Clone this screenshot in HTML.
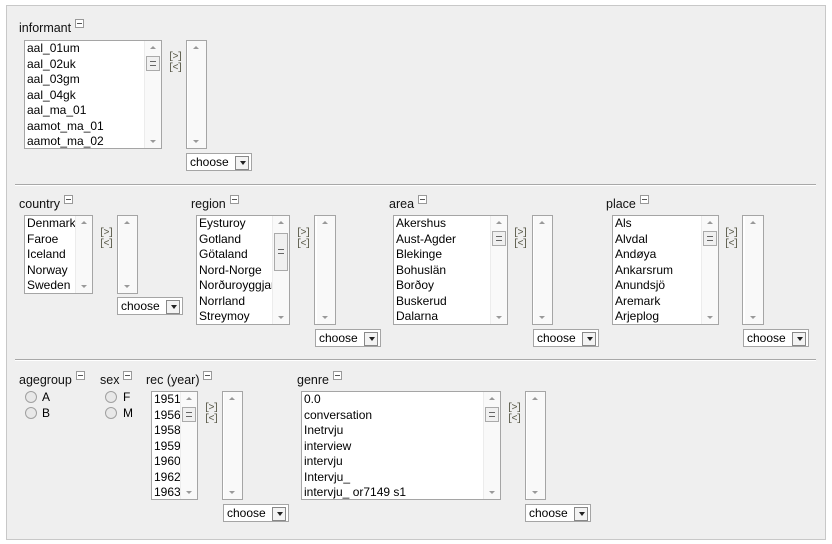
<!DOCTYPE html>
<html><head><meta charset="utf-8"><style>
body{margin:0;width:832px;height:544px;background:#fff;font-family:"Liberation Sans",sans-serif;font-size:12px;color:#000;position:relative;overflow:hidden}
.frame{position:absolute;left:6px;top:5px;width:818px;height:533px;background:#efefef;border:1px solid #c8c8c8}
.a{position:absolute}
.lbl{position:absolute;font-size:12.5px;color:#111}
.lbl i{display:inline-block;width:7px;height:7px;border:1px solid #999;background:#fff;margin-left:4px;position:relative;top:-4px}
.lbl i:after{content:"";position:absolute;left:1px;top:3px;width:5px;height:1px;background:#555}
.box{position:absolute;background:#fff;border:1px solid #a5a5a5;box-sizing:border-box;overflow:hidden}
.box .it{position:absolute;left:2px;line-height:15.5px;white-space:nowrap;font-size:12px}
.sb{position:absolute;right:0;top:0;bottom:0;width:16px;background:#f9f9f9;border-left:1px solid #ececec}
.sb:before{content:"";position:absolute;left:5px;top:5px;border:3px solid transparent;border-bottom:3px solid #999;border-top:0}
.sb:after{content:"";position:absolute;left:5px;bottom:5px;border:3px solid transparent;border-top:3px solid #999;border-bottom:0}
.th{position:absolute;left:1px;width:12px;border:1px solid #aaa;background:#f0f0f0;box-sizing:content-box}
.th:after{content:"";position:absolute;left:3px;top:50%;margin-top:-3px;width:6px;height:5px;border-top:1px solid #666;border-bottom:1px solid #666;box-sizing:border-box}
.arr{position:absolute;font-size:10px;line-height:11px;color:#554;font-family:"Liberation Mono",monospace;letter-spacing:-1.5px}
.ch{position:absolute;height:18px;background:#fff;border:1px solid #a5a5a5;box-sizing:border-box;font-size:12px;line-height:16px;padding-left:3px;width:66px}
.ch:after{content:"";position:absolute;right:2px;top:2px;width:12px;height:12px;border:1px solid #888;background:#f3f3f3}
.ch b{position:absolute;right:5px;top:7px;border:3px solid transparent;border-top:4px solid #222;border-bottom:0;z-index:2}
.hr{position:absolute;left:15px;width:801px;height:1px;background:#a8a8a8;border-bottom:1px solid #fff}
.rad{position:absolute;width:10px;height:10px;border-radius:50%;border:1px solid #a0a0a0;background:#e8e8e8}
</style></head><body>
<div class="frame"></div>

<div class="lbl" style="left:19px;top:21px">informant<i></i></div>
<div class="box" style="left:24px;top:40px;width:138px;height:109px">
<div class="it" style="top:0">aal_01um</div><div class="it" style="top:15.5px">aal_02uk</div><div class="it" style="top:31px">aal_03gm</div><div class="it" style="top:46.5px">aal_04gk</div><div class="it" style="top:62px">aal_ma_01</div><div class="it" style="top:77.5px">aamot_ma_01</div><div class="it" style="top:93px">aamot_ma_02</div>
<div class="sb"><div class="th" style="top:15px;height:13px"></div></div></div>
<div class="arr" style="left:168px;top:52px">[&gt;]<br>[&lt;]</div>
<div class="box" style="left:186px;top:40px;width:21px;height:109px"><div class="sb" style="width:18px;border:0"></div></div>
<div class="ch" style="left:186px;top:153px">choose<b></b></div>

<div class="hr" style="top:184px"></div>

<div class="lbl" style="left:19px;top:197px">country<i></i></div>
<div class="box" style="left:24px;top:215px;width:69px;height:79px">
<div class="it" style="top:0">Denmark</div><div class="it" style="top:15.5px">Faroe</div><div class="it" style="top:31px">Iceland</div><div class="it" style="top:46.5px">Norway</div><div class="it" style="top:62px">Sweden</div>
<div class="sb"></div></div>
<div class="arr" style="left:99px;top:228px">[&gt;]<br>[&lt;]</div>
<div class="box" style="left:117px;top:215px;width:21px;height:79px"><div class="sb" style="width:18px;border:0"></div></div>
<div class="ch" style="left:117px;top:297px">choose<b></b></div>

<div class="lbl" style="left:191px;top:197px">region<i></i></div>
<div class="box" style="left:196px;top:215px;width:94px;height:110px">
<div class="it" style="top:0">Eysturoy</div><div class="it" style="top:15.5px">Gotland</div><div class="it" style="top:31px">Götaland</div><div class="it" style="top:46.5px">Nord-Norge</div><div class="it" style="top:62px">Norðuroyggjar</div><div class="it" style="top:77.5px">Norrland</div><div class="it" style="top:93px">Streymoy</div>
<div class="sb"><div class="th" style="top:17px;height:36px"></div></div></div>
<div class="arr" style="left:296px;top:228px">[&gt;]<br>[&lt;]</div>
<div class="box" style="left:314px;top:215px;width:22px;height:110px"><div class="sb" style="width:18px;border:0"></div></div>
<div class="ch" style="left:315px;top:329px">choose<b></b></div>

<div class="lbl" style="left:389px;top:197px">area<i></i></div>
<div class="box" style="left:393px;top:215px;width:115px;height:110px">
<div class="it" style="top:0">Akershus</div><div class="it" style="top:15.5px">Aust-Agder</div><div class="it" style="top:31px">Blekinge</div><div class="it" style="top:46.5px">Bohuslän</div><div class="it" style="top:62px">Borðoy</div><div class="it" style="top:77.5px">Buskerud</div><div class="it" style="top:93px">Dalarna</div>
<div class="sb"><div class="th" style="top:15px;height:13px"></div></div></div>
<div class="arr" style="left:513px;top:228px">[&gt;]<br>[&lt;]</div>
<div class="box" style="left:532px;top:215px;width:21px;height:110px"><div class="sb" style="width:18px;border:0"></div></div>
<div class="ch" style="left:533px;top:329px">choose<b></b></div>

<div class="lbl" style="left:606px;top:197px">place<i></i></div>
<div class="box" style="left:612px;top:215px;width:107px;height:110px">
<div class="it" style="top:0">Als</div><div class="it" style="top:15.5px">Alvdal</div><div class="it" style="top:31px">Andøya</div><div class="it" style="top:46.5px">Ankarsrum</div><div class="it" style="top:62px">Anundsjö</div><div class="it" style="top:77.5px">Aremark</div><div class="it" style="top:93px">Arjeplog</div>
<div class="sb"><div class="th" style="top:15px;height:13px"></div></div></div>
<div class="arr" style="left:724px;top:228px">[&gt;]<br>[&lt;]</div>
<div class="box" style="left:742px;top:215px;width:22px;height:110px"><div class="sb" style="width:18px;border:0"></div></div>
<div class="ch" style="left:743px;top:329px">choose<b></b></div>

<div class="hr" style="top:359px"></div>

<div class="lbl" style="left:19px;top:373px">agegroup<i></i></div>
<div class="rad" style="left:25px;top:391px"></div><div class="a" style="left:42px;top:390px">A</div>
<div class="rad" style="left:25px;top:407px"></div><div class="a" style="left:42px;top:406px">B</div>
<div class="lbl" style="left:100px;top:373px">sex<i></i></div>
<div class="rad" style="left:105px;top:391px"></div><div class="a" style="left:123px;top:390px">F</div>
<div class="rad" style="left:105px;top:407px"></div><div class="a" style="left:123px;top:406px">M</div>
<div class="lbl" style="left:146px;top:373px">rec (year)<i></i></div>
<div class="box" style="left:151px;top:391px;width:47px;height:109px">
<div class="it" style="top:0">1951</div><div class="it" style="top:15.5px">1956</div><div class="it" style="top:31px">1958</div><div class="it" style="top:46.5px">1959</div><div class="it" style="top:62px">1960</div><div class="it" style="top:77.5px">1962</div><div class="it" style="top:93px">1963</div>
<div class="sb"><div class="th" style="top:15px;height:13px"></div></div></div>
<div class="arr" style="left:204px;top:403px">[&gt;]<br>[&lt;]</div>
<div class="box" style="left:222px;top:391px;width:21px;height:109px"><div class="sb" style="width:18px;border:0"></div></div>
<div class="ch" style="left:223px;top:504px">choose<b></b></div>

<div class="lbl" style="left:297px;top:373px">genre<i></i></div>
<div class="box" style="left:301px;top:391px;width:200px;height:109px">
<div class="it" style="top:0">0.0</div><div class="it" style="top:15.5px">conversation</div><div class="it" style="top:31px">Inetrvju</div><div class="it" style="top:46.5px">interview</div><div class="it" style="top:62px">intervju</div><div class="it" style="top:77.5px">Intervju_</div><div class="it" style="top:93px">intervju_ or7149 s1</div>
<div class="sb"><div class="th" style="top:15px;height:13px"></div></div></div>
<div class="arr" style="left:507px;top:403px">[&gt;]<br>[&lt;]</div>
<div class="box" style="left:525px;top:391px;width:21px;height:109px"><div class="sb" style="width:18px;border:0"></div></div>
<div class="ch" style="left:525px;top:504px">choose<b></b></div>
</body></html>
